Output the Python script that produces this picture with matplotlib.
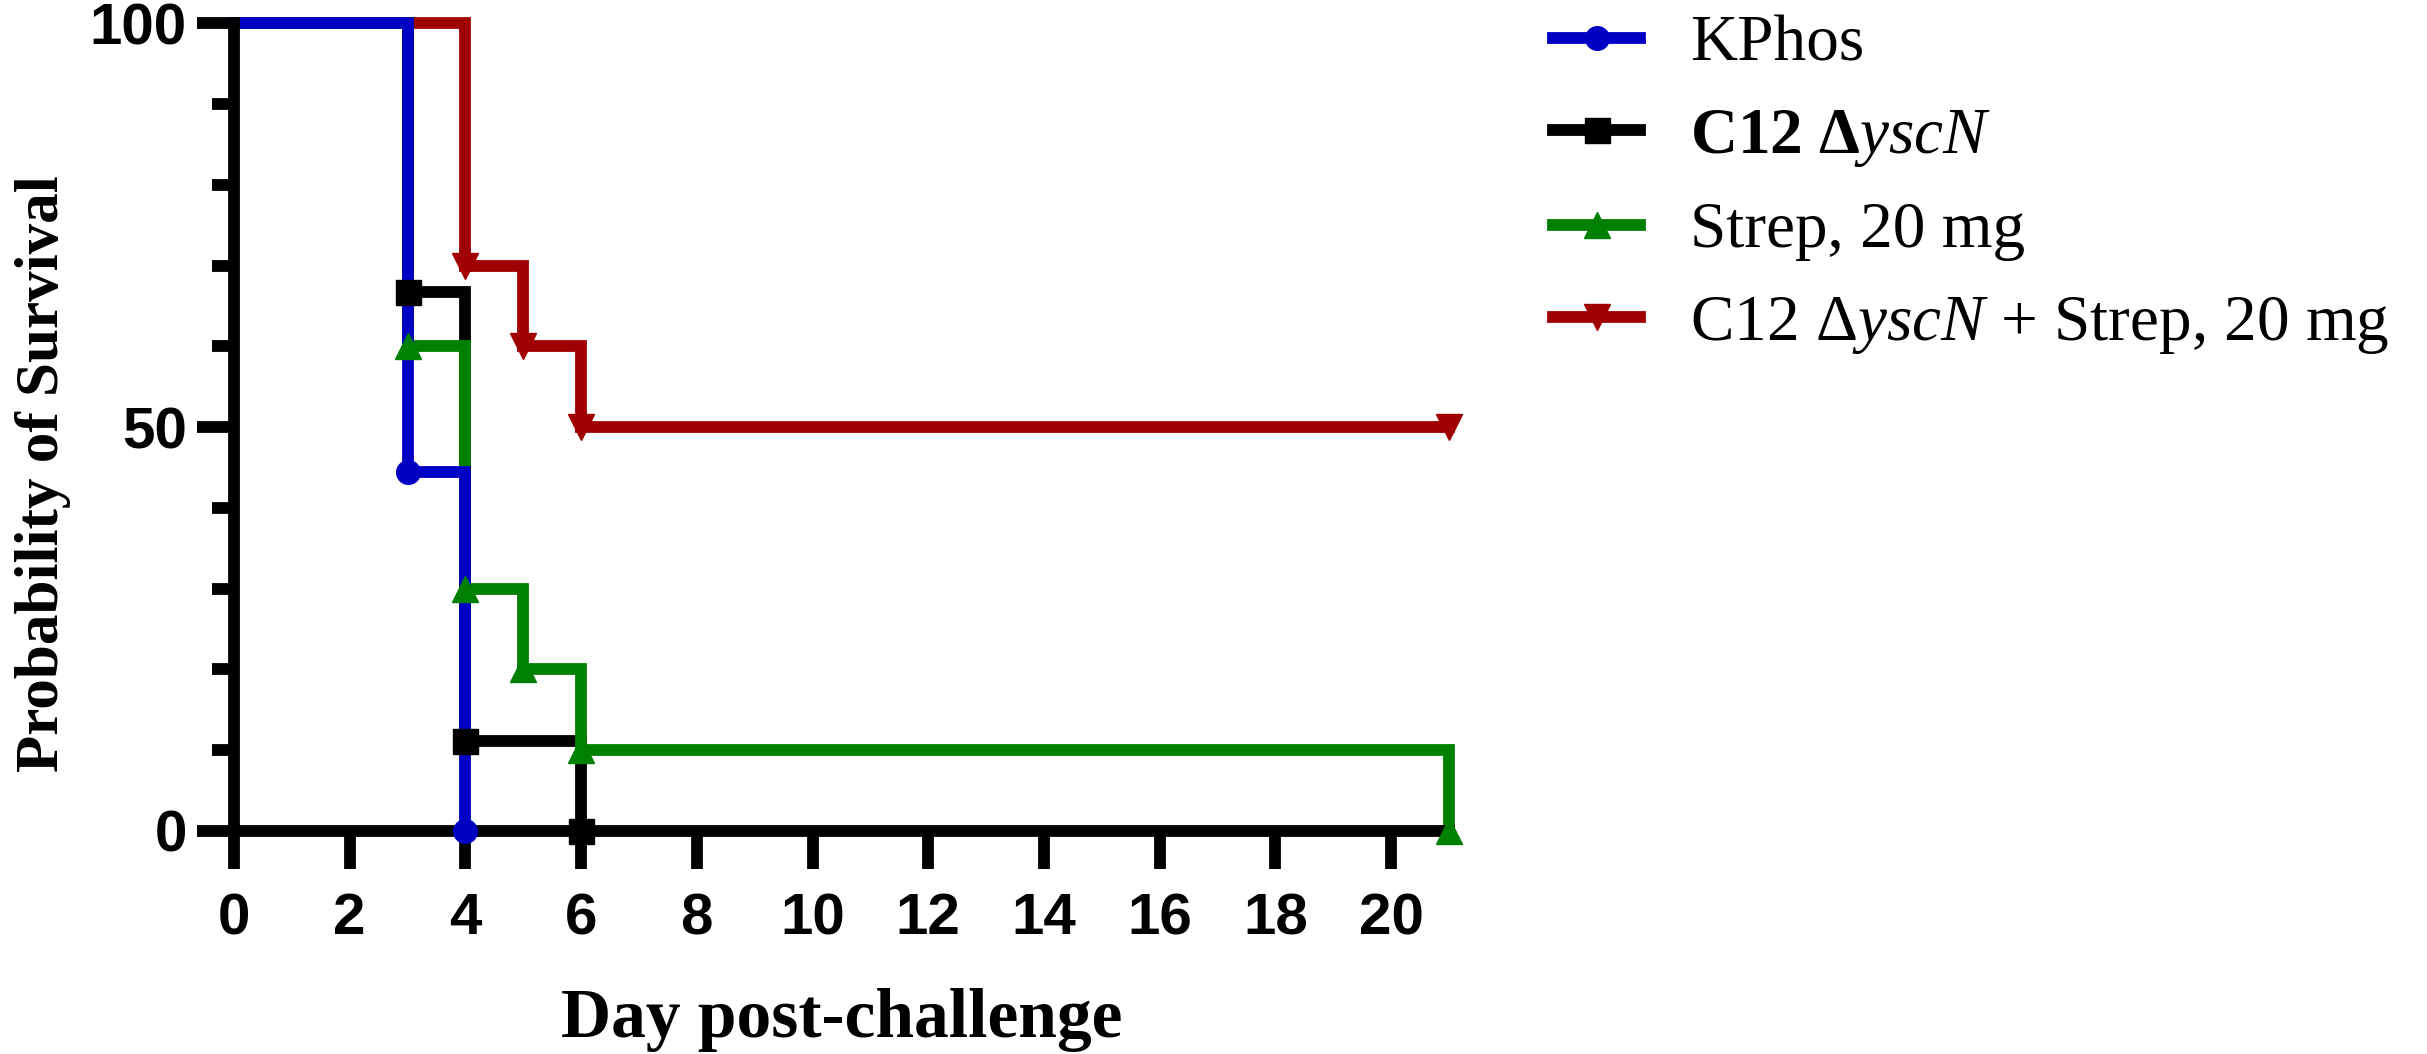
import matplotlib
matplotlib.use("Agg")
import matplotlib.pyplot as plt
from matplotlib.lines import Line2D
from matplotlib.ticker import MultipleLocator

# survival data (day, percent surviving)
kphos_days = [0, 3, 4]
kphos_surv = [100, 44.4, 0]
c12_days = [0, 3, 4, 6]
c12_surv = [100, 66.7, 11.1, 0]
strep_days = [0, 3, 4, 5, 6, 21]
strep_surv = [100, 60, 30, 20, 10, 0]
combo_days = [0, 4, 5, 6, 21]
combo_surv = [100, 70, 60, 50, 50]

labels = ["KPhos", r"C12 Δ$\mathit{yscN}$", "Strep, 20 mg",
          r"C12 Δ$\mathit{yscN}$ + Strep, 20 mg"]
colors = ["#0000c4", "#000000", "#008000", "#a00000"]
markers = ["o", "s", "^", "v"]
msizes = [17, 18, 19, 19]

plt.rcParams['mathtext.fontset'] = 'custom'
plt.rcParams['mathtext.rm'] = 'Liberation Serif'
plt.rcParams['mathtext.it'] = 'Liberation Serif:italic'
plt.rcParams['mathtext.bf'] = 'Liberation Serif:bold'

fig = plt.figure(figsize=(24.27, 10.54), dpi=100)
ax = fig.add_axes([0.0964, 0.2116, 0.5006, 0.7664])

LW = 8.5
# draw order: combo, c12, strep, kphos (blue on top)
series = [
    (combo_days, combo_surv, 3),
    (c12_days, c12_surv, 1),
    (strep_days, strep_surv, 2),
    (kphos_days, kphos_surv, 0),
]
for k, (d, s, i) in enumerate(series):
    ax.step(d, s, where='post', color=colors[i], lw=LW, zorder=3 + k,
            clip_on=False, solid_joinstyle='miter')
    ax.plot(d[1:], s[1:], ls='none', marker=markers[i], color=colors[i],
            ms=msizes[i], zorder=8 + k, clip_on=False)

ax.set_xlim(0, 21)
ax.set_ylim(0, 100)
ax.spines['top'].set_visible(False)
ax.spines['right'].set_visible(False)
for sp in ['left', 'bottom']:
    ax.spines[sp].set_linewidth(8.5)
    ax.spines[sp].set_zorder(7)

ax.xaxis.set_major_locator(MultipleLocator(2))
ax.yaxis.set_major_locator(MultipleLocator(50))
ax.yaxis.set_minor_locator(MultipleLocator(10))
ax.tick_params(axis='x', which='major', length=27, width=8.5, pad=17)
ax.tick_params(axis='y', which='major', length=27, width=8.5, pad=7)
ax.tick_params(axis='y', which='minor', length=16, width=8.5)

for lab in ax.get_xticklabels() + ax.get_yticklabels():
    lab.set_fontfamily('Liberation Sans')
    lab.set_fontweight('bold')
    lab.set_fontsize(42)

ax.set_xlabel("Day post-challenge", family='Liberation Serif', weight='bold',
              fontsize=50, va='top')
ax.xaxis.set_label_coords(0.5, -0.195)
ax.set_ylabel("Probability of Survival", family='Liberation Serif', weight='bold',
              fontsize=44)
ax.yaxis.set_label_coords(-0.134, 0.442)

handles = [Line2D([], [], color=c, lw=LW, marker=m, ms=ms)
           for c, m, ms in zip(colors, markers, msizes)]
leg = fig.legend(handles, labels, loc='upper left', bbox_to_anchor=(0.640, 0.986),
                 frameon=False, handlelength=1.33, handletextpad=0.77,
                 labelspacing=0.5, borderpad=0, borderaxespad=0,
                 prop={'family': 'Liberation Serif', 'size': 47})
leg.get_texts()[1].set_fontweight('bold')

fig.savefig("out.png", dpi=100)
